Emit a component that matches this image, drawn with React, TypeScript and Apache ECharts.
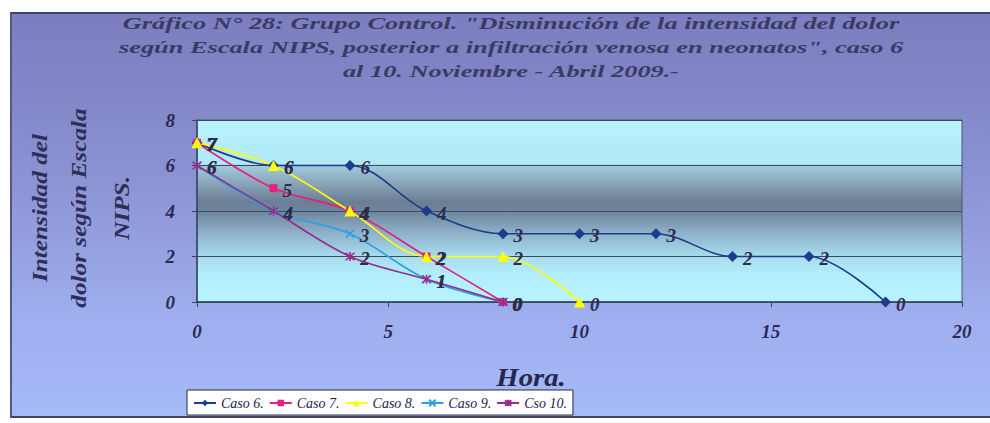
import { useEffect, useRef } from "react";
import * as echarts from "echarts";

const titleLines = [
  'Gráfico N° 28: Grupo Control. "Disminución de la intensidad del dolor',
  'según Escala NIPS, posterior a infiltración venosa en neonatos", caso 6',
  "al 10. Noviembre - Abril 2009.-",
];
const yNameLines = ["Intensidad del", "dolor según Escala", "NIPS."];
const xName = "Hora.";
const seriesNames = ["Caso 6.", "Caso 7.", "Caso 8.", "Caso 9.", "Cso 10."];

const hours6 = [0, 2, 4, 6, 8, 10, 12, 14, 16, 18];
const caso6 = [7, 6, 6, 4, 3, 3, 3, 2, 2, 0];
const hours7 = [0, 2, 4, 6, 8];
const caso7 = [7, 5, 4, 2, 0];
const hours8 = [0, 2, 4, 6, 8, 10];
const caso8 = [7, 6, 4, 2, 2, 0];
const hours9 = [0, 2, 4, 6, 8];
const caso9 = [6, 4, 3, 1, 0];
const hours10 = [0, 2, 4, 6, 8];
const caso10 = [6, 4, 2, 1, 0];

const xMin = 0;
const xMax = 20;
const xStep = 5;
const yMin = 0;
const yMax = 8;
const yStep = 2;

const FONT = "Liberation Serif";
const TEXT_DARK = "#2a2a55";

const CROSS = "path://M0,0L10,10M10,0L0,10";
const STAR = "path://M0,0L10,10M10,0L0,10M5,-1L5,11";

function makeSeries(
  name: string,
  xs: number[],
  ys: number[],
  color: string,
  symbol: string,
  size: number,
  stroked: boolean
) {
  return {
    name,
    type: "line",
    data: xs.map((x, i) => [x, ys[i]]),
    smooth: 0.33,
    symbol,
    symbolSize: size,
    lineStyle: { color, width: 1.6 },
    itemStyle: stroked
      ? { color, borderColor: color, borderWidth: 1.6 }
      : { color, borderWidth: 0 },
    label: {
      show: true,
      position: "right",
      distance: 5,
      offset: [0, 2],
      formatter: (p: any) => String(p.value[1]),
      fontSize: 19,
      fontWeight: "bold",
      fontStyle: "italic",
      fontFamily: FONT,
      color: "#2c2c4c",
    },
    emphasis: { disabled: true },
  };
}

export default function App() {
  const ref = useRef<HTMLDivElement>(null);

  useEffect(() => {
    if (!ref.current) return;
    const chart = echarts.init(ref.current, null, { renderer: "svg" });

    const plotBg = new echarts.graphic.LinearGradient(0, 0, 0, 1, [
      { offset: 0, color: "#b8f4ff" },
      { offset: 0.24, color: "#b0e8f6" },
      { offset: 0.25, color: "#a0ccde" },
      { offset: 0.35, color: "#8aa4b8" },
      { offset: 0.45, color: "#6a7e94" },
      { offset: 0.5, color: "#6e869e" },
      { offset: 0.62, color: "#8eb0c8" },
      { offset: 0.75, color: "#a8dcee" },
      { offset: 0.85, color: "#b2eefb" },
      { offset: 1, color: "#b6f4ff" },
    ]);

    const titleGraphics = titleLines.map((t, i) => ({
      type: "text",
      x: 511,
      y: 23 + i * 24,
      scaleX: 1.55,
      silent: true,
      style: {
        text: t,
        fontSize: 17,
        fontWeight: "bold",
        fontStyle: "italic",
        fontFamily: FONT,
        fill: "#3a3a64",
        align: "center",
        verticalAlign: "middle",
        textAlign: "center",
        textVerticalAlign: "middle",
      },
    }));

    const yNameX = [40, 79, 122];
    const yNameGraphics = yNameLines.map((t, i) => ({
      type: "text",
      x: yNameX[i],
      y: 208,
      rotation: Math.PI / 2,
      scaleX: 1.15,
      silent: true,
      style: {
        text: t,
        fontSize: 22,
        fontWeight: "bold",
        fontStyle: "italic",
        fontFamily: FONT,
        fill: "#2e2e58",
        align: "center",
        verticalAlign: "middle",
        textAlign: "center",
        textVerticalAlign: "middle",
      },
    }));

    const xNameGraphic = {
      type: "text",
      x: 531,
      y: 378,
      scaleX: 1.15,
      silent: true,
      style: {
        text: xName,
        fontSize: 25,
        fontWeight: "bold",
        fontStyle: "italic",
        fontFamily: FONT,
        fill: "#262650",
        align: "center",
        verticalAlign: "middle",
        textAlign: "center",
        textVerticalAlign: "middle",
      },
    };

    const tickLabel = {
      fontSize: 19,
      fontWeight: "bold",
      fontStyle: "italic",
      fontFamily: FONT,
      color: TEXT_DARK,
    };

    chart.setOption({
      animation: false,
      backgroundColor: "transparent",
      graphic: [...titleGraphics, ...yNameGraphics, xNameGraphic],
      legend: {
        data: seriesNames,
        left: 187,
        top: 390,
        orient: "horizontal",
        backgroundColor: "#ffffff",
        borderColor: "#2a2a3a",
        borderWidth: 1,
        borderRadius: 0,
        padding: [6, 6, 5, 6],
        itemGap: 5,
        itemWidth: 22,
        itemHeight: 8,
        selectedMode: false,
        textStyle: {
          fontSize: 14,
          fontStyle: "italic",
          fontFamily: FONT,
          color: "#1c1c4c",
        },
      },
      grid: {
        left: 197,
        right: 28,
        top: 120,
        bottom: 121,
        show: true,
        backgroundColor: plotBg,
        borderColor: "#4a5672",
        borderWidth: 1,
        containLabel: false,
        outerBoundsMode: "none",
      },
      xAxis: {
        type: "value",
        min: xMin,
        max: xMax,
        interval: xStep,
        axisLine: { show: true, onZero: false, lineStyle: { color: "#3a4660", width: 1.5 } },
        axisTick: { show: true, inside: false, length: 5, lineStyle: { color: "#3a4660" } },
        splitLine: { show: false },
        axisLabel: { ...tickLabel, margin: 20 },
      },
      yAxis: {
        type: "value",
        min: yMin,
        max: yMax,
        interval: yStep,
        axisLine: { show: true, onZero: false, lineStyle: { color: "#3a4660", width: 1.5 } },
        axisTick: { show: true, inside: false, length: 5, lineStyle: { color: "#3a4660" } },
        splitLine: { show: true, lineStyle: { color: "#3c4a5c", width: 1.2 } },
        axisLabel: { ...tickLabel, margin: 22 },
      },
      series: [
        makeSeries(seriesNames[0], hours6, caso6, "#1e3c8c", "diamond", 11, false),
        makeSeries(seriesNames[1], hours7, caso7, "#e2207e", "rect", 8, false),
        makeSeries(seriesNames[2], hours8, caso8, "#ffff00", "triangle", 11, false),
        makeSeries(seriesNames[3], hours9, caso9, "#28a4e4", CROSS, 8, true),
        makeSeries(seriesNames[4], hours10, caso10, "#9c2a8c", STAR, 9, true),
      ],
    });

    return () => chart.dispose();
  }, []);

  return (
    <div
      style={{
        position: "fixed",
        left: 0,
        top: 0,
        width: 990,
        height: 423,
        background: "#ffffff",
        overflow: "hidden",
      }}
    >
      <div
        style={{
          position: "absolute",
          left: 10,
          top: 12,
          width: 980,
          height: 406,
          boxSizing: "border-box",
          borderTop: "2px solid #40406a",
          borderLeft: "2px solid #55558a",
          borderBottom: "2px solid #40406a",
          background:
            "linear-gradient(to bottom, #7c7ebf 0%, #8286c6 20%, #8e96d6 45%, #9eaeee 75%, #a6baf8 100%)",
        }}
      />
      <div
        ref={ref}
        style={{ position: "absolute", left: 0, top: 0, width: 990, height: 423 }}
      />
    </div>
  );
}
